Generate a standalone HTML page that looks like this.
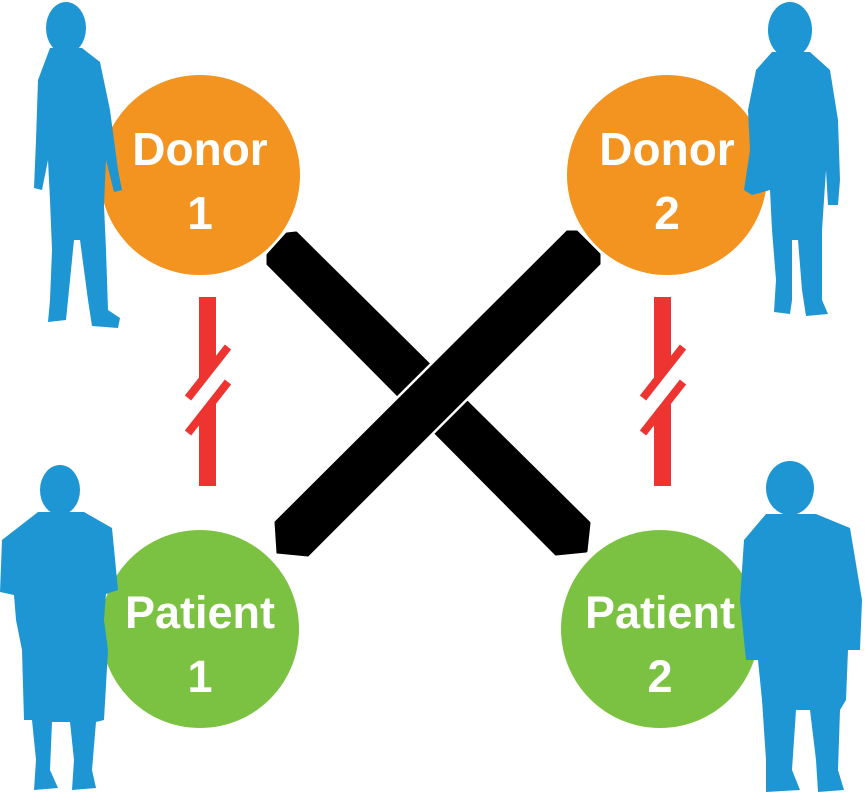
<!DOCTYPE html>
<html><head><style>
html,body{margin:0;padding:0;background:#fff;}
svg{display:block;}
text{font-family:"Liberation Sans",sans-serif;font-weight:bold;fill:#fff;text-anchor:middle;}
</style></head><body>
<svg width="865" height="795" viewBox="0 0 865 795" xmlns="http://www.w3.org/2000/svg">
<circle cx="200" cy="175" r="100" fill="#f39320"/>
<circle cx="667" cy="175" r="100" fill="#f39320"/>
<circle cx="200" cy="629" r="99" fill="#7cc242"/>
<circle cx="660" cy="629" r="99" fill="#7cc242"/>
<text x="200" y="165" font-size="46">Donor</text>
<text x="200" y="229" font-size="46">1</text>
<text x="667" y="165" font-size="46">Donor</text>
<text x="667" y="229" font-size="46">2</text>
<text x="200" y="628" font-size="45">Patient</text>
<text x="200" y="692" font-size="45">1</text>
<text x="660" y="628" font-size="45">Patient</text>
<text x="660" y="692" font-size="45">2</text>

<g id="rl">
<rect x="199" y="297" width="17" height="189" fill="#ee3430"/>
<polygon points="180,412 235,342 235,369 180,439" fill="#fff"/>
<line x1="188" y1="398" x2="228" y2="347" stroke="#ee3430" stroke-width="8"/>
<line x1="188" y1="433" x2="228" y2="382" stroke="#ee3430" stroke-width="8"/>
</g>
<use href="#rl" transform="translate(455,0)"/>

<polygon points="296,233 589,523 586,551 556,554 268,264 268,255 287,234" fill="#000" stroke="#000" stroke-width="3" stroke-linejoin="round"/>
<polygon points="275,522 567,231 577,231 600,254 600,264 308,556 277,553" fill="#000" stroke="#fff" stroke-width="6" stroke-linejoin="round"/>
<polygon points="275,522 567,231 577,231 600,254 600,264 308,556 277,553" fill="#000" stroke="#000" stroke-width="1" stroke-linejoin="round"/>

<g fill="#1e96d4">
<ellipse cx="66" cy="28" rx="20" ry="26"/>
<path d="M50,48 L82,48 L100,62 L110,110 L118,170 L122,190 L114,192 L106,160 L104,205 L106,250 L108,310 L120,318 L118,328 L92,326 L88,300 L80,240 L74,240 L68,300 L66,320 L48,322 L50,300 L52,250 L50,200 L48,160 L42,190 L34,188 L36,140 L38,80 Z"/>
<ellipse cx="790" cy="30" rx="22" ry="28"/>
<path d="M772,52 L810,52 L830,70 L838,120 L840,180 L838,205 L828,205 L826,170 L822,230 L822,300 L828,314 L806,316 L802,290 L798,240 L792,240 L792,300 L790,314 L774,312 L776,280 L772,230 L770,190 L752,195 L744,190 L750,150 L748,110 L756,70 Z"/>
<ellipse cx="60" cy="490" rx="20" ry="25"/>
<path d="M38,512 L84,512 L112,528 L118,590 L106,594 L104,620 L108,650 L104,720 L96,722 L92,770 L96,788 L72,790 L74,760 L70,722 L52,722 L50,770 L58,788 L34,790 L36,760 L32,720 L24,720 L22,650 L16,620 L14,595 L0,592 L2,540 Z"/>
<ellipse cx="790" cy="488" rx="24" ry="27"/>
<path d="M766,514 L816,514 L850,528 L862,600 L860,650 L848,650 L846,700 L840,710 L838,770 L844,790 L818,792 L816,760 L810,710 L796,710 L792,770 L800,790 L766,792 L766,760 L762,700 L758,660 L746,660 L740,600 L744,540 Z"/>
</g>
</svg>
</body></html>
